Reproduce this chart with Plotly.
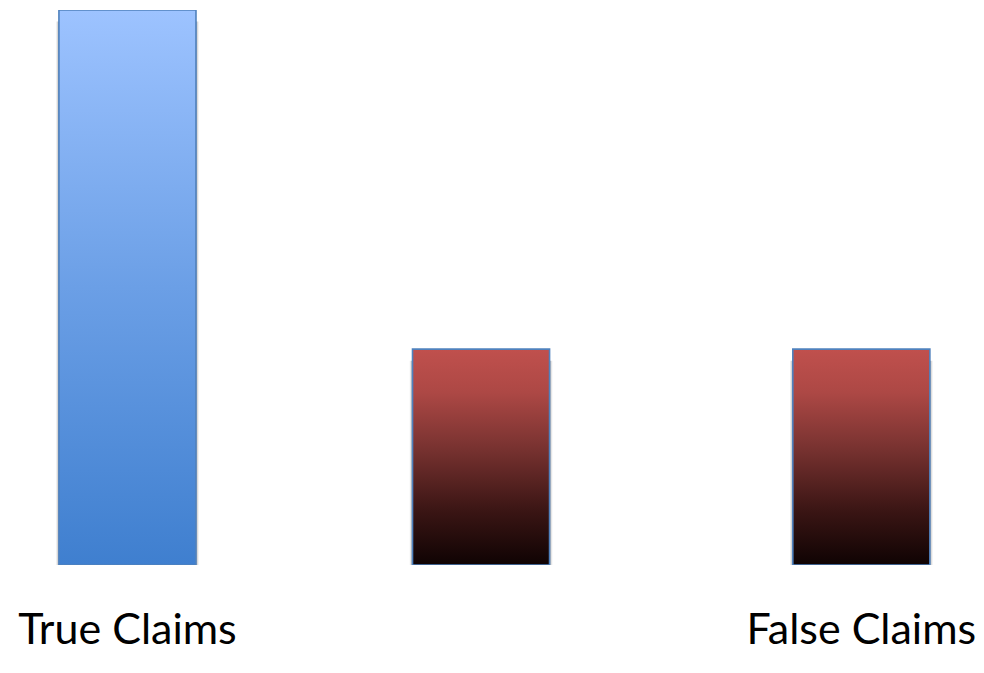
import plotly.graph_objects as go

# Claim counts per bar (two bars share the "false" colour scheme)
categories = ["True Claims", "", "False Claims"]
values = [72, 28, 28]
tick_labels = ["True Claims", "", "False Claims"]

# Horizontal layout of the three bars (axis units, bar width = 1)
bar_centers = [0.93, 3.51, 6.285]
bar_width = 1.0
x_range = [0, 7.18]

blue_scale = [[0.0, "#3f7fcf"], [0.5, "#6b9fe6"], [1.0, "#9dc3ff"]]
red_scale = [[0.0, "#0f0303"], [0.25, "#3a1514"], [0.55, "#7a3331"],
             [0.8, "#ad4845"], [1.0, "#c0504d"]]
scales = [blue_scale, red_scale, red_scale]

fig = go.Figure()

for cx, v, sc in zip(bar_centers, values, scales):
    x0, x1 = cx - bar_width / 2, cx + bar_width / 2
    # soft drop shadow below each bar
    for grow, op in [(0.05, 0.08), (0.03, 0.12), (0.015, 0.14)]:
        fig.add_trace(go.Scatter(
            x=[x0 - grow * 0.4, x1 + grow * 0.4, x1 + grow * 0.4, x0 - grow * 0.4, x0 - grow * 0.4],
            y=[-grow * 12, -grow * 12, v - 1.5, v - 1.5, -grow * 12],
            mode="lines", line=dict(width=0), fill="toself",
            fillcolor=f"rgba(0,0,0,{op})", hoverinfo="skip", showlegend=False,
        ))
    # gradient-filled bar body
    fig.add_trace(go.Scatter(
        x=[x0, x1, x1, x0, x0],
        y=[0, 0, v, v, 0],
        mode="lines",
        line=dict(color="#4f81bd", width=1.6),
        fill="toself",
        fillgradient=dict(type="vertical", colorscale=sc),
        hoverinfo="skip",
        showlegend=False,
    ))

fig.update_layout(
    width=984, height=673,
    margin=dict(l=0, r=0, t=10, b=108),
    paper_bgcolor="white", plot_bgcolor="white",
    xaxis=dict(range=x_range, showgrid=False, zeroline=False, showline=False,
               tickmode="array", tickvals=bar_centers, ticktext=tick_labels,
               ticks="", ticklabelstandoff=35,
               tickfont=dict(family="Lato, Open Sans, sans-serif", size=43, color="black")),
    yaxis=dict(range=[0, 72], showgrid=False, zeroline=False, showline=False,
               showticklabels=False),
)

fig.write_html("out.html")
